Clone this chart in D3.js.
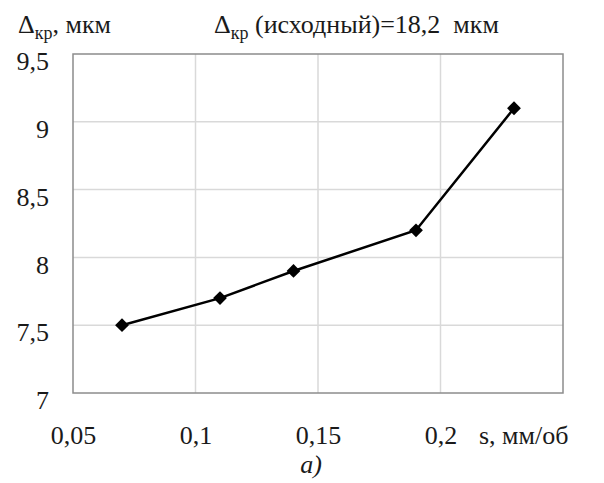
<!DOCTYPE html>
<html><head><meta charset="utf-8">
<script src="https://cdn.jsdelivr.net/npm/d3@7"></script>
<style>body{margin:0;background:#fff}svg{display:block}</style>
</head><body><svg id="c" width="604" height="483" font-family="Liberation Serif"></svg>
<script>
const sValues = [0.07, 0.11, 0.14, 0.19, 0.23];
const deltaValues = [7.5, 7.7, 7.9, 8.2, 9.1];
const xTicks = [0.05, 0.1, 0.15, 0.2];
const xTickLabels = ["0,05", "0,1", "0,15", "0,2"];
const yTicks = [7, 7.5, 8, 8.5, 9, 9.5];
const yTickLabels = ["7", "7,5", "8", "8,5", "9", "9,5"];

const FS = 26;
const svg = d3.select("#c");
const m = {l:73, r:563, t:54, b:393};
const x = d3.scaleLinear().domain([0.05, 0.25]).range([m.l, m.r]);
const y = d3.scaleLinear().domain([7, 9.5]).range([m.b, m.t]);

function serif(sel){ return sel.attr("font-family", "Liberation Serif").attr("font-size", FS).attr("fill", "#1a1a1a"); }

// grid
svg.append("g").selectAll("line").data([0.1,0.15,0.2]).join("line")
  .attr("x1", d=>x(d)).attr("x2", d=>x(d)).attr("y1", m.t).attr("y2", m.b)
  .attr("stroke", "#d9d9d9").attr("stroke-width", 1.5);
svg.append("g").selectAll("line").data([7.5,8,8.5,9]).join("line")
  .attr("x1", m.l).attr("x2", m.r).attr("y1", d=>y(d)).attr("y2", d=>y(d))
  .attr("stroke", "#d9d9d9").attr("stroke-width", 1.5);
// frame
svg.append("rect").attr("x", m.l).attr("y", m.t).attr("width", m.r-m.l).attr("height", m.b-m.t)
  .attr("fill", "none").attr("stroke", "#8c8c8c").attr("stroke-width", 1.5);

// axes labels via d3 axes
const xAxis = d3.axisBottom(x).tickValues(xTicks).tickFormat((d,i)=>xTickLabels[i]).tickSize(0).tickPadding(0);
const gx = svg.append("g").attr("transform", `translate(0,${m.b})`).call(xAxis);
gx.attr("font-family", null).attr("font-size", null);
gx.select(".domain").remove();
serif(gx.selectAll("text")).attr("dy", null).attr("y", 51);

const yAxis = d3.axisLeft(y).tickValues(yTicks).tickFormat((d,i)=>yTickLabels[i]).tickSize(0).tickPadding(0);
const gy = svg.append("g").attr("transform", `translate(${m.l},0)`).call(yAxis);
gy.attr("font-family", null).attr("font-size", null);
gy.select(".domain").remove();
serif(gy.selectAll("text")).attr("x", -24).attr("dy", "0.6em");

// line
const pts = sValues.map((s,i)=>[s, deltaValues[i]]);
svg.append("path").datum(pts)
  .attr("d", d3.line().x(d=>x(d[0])).y(d=>y(d[1])))
  .attr("fill", "none").attr("stroke", "#000").attr("stroke-width", 2.5);
svg.append("g").selectAll("path").data(pts).join("path")
  .attr("d", d3.symbol(d3.symbolSquare, 95))
  .attr("transform", d=>`translate(${x(d[0])},${y(d[1])}) rotate(45)`)
  .attr("fill", "#000");

// titles
const t1 = serif(svg.append("text").attr("x", 18).attr("y", 33));
t1.append("tspan").text("Δ");
t1.append("tspan").attr("font-size", 18).attr("dy", 6).text("кр");
t1.append("tspan").attr("dy", -6).text(", мкм");

const t2 = serif(svg.append("text").attr("x", 214).attr("y", 33));
t2.append("tspan").text("Δ");
t2.append("tspan").attr("font-size", 18).attr("dy", 6).text("кр");
t2.append("tspan").attr("dy", -6).text(" (исходный)=18,2\u00a0\u00a0мкм");

serif(svg.append("text").attr("x", 479).attr("y", 444)).text("s, мм/об");
serif(svg.append("text").attr("x", 311).attr("y", 473)).attr("font-style", "italic").attr("text-anchor", "middle").text("а)");
</script></body></html>
